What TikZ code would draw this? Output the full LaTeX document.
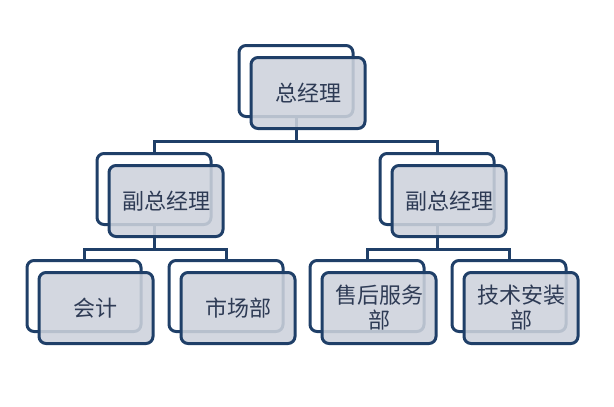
\documentclass[tikz,border=0pt]{standalone}
\usepackage{fontspec}
\setmainfont{Noto Sans CJK SC}
\usetikzlibrary{positioning}

\definecolor{boxline}{HTML}{1F3F68}
\definecolor{boxfill}{HTML}{CDD2DC}
\definecolor{boxtext}{HTML}{2E3B55}

\begin{document}
\begin{tikzpicture}[x=1pt, y=-1pt,
		back/.style={rectangle, rounded corners=7pt, draw=boxline, line width=3pt,
			fill=white, minimum width=114pt, minimum height=71pt, inner sep=0pt},
		front/.style={back, fill=boxfill, fill opacity=0.88, text opacity=1,
			text=boxtext, align=center, font=\fontsize{22}{25}\selectfont},
		link/.style={draw=boxline, line width=3pt}
	]
	\useasboundingbox (0,0) rectangle (614,407);

	% back boxes
	\node[back] (gm) at (296, 81) {};
	\node[back] (vp1) at (154, 189) {};
	\node[back] (vp2) at (437, 189) {};
	\node[back] (acc) at (84, 296) {};
	\node[back] (mkt) at (226, 296) {};
	\node[back] (svc) at (367, 296) {};
	\node[back] (tech) at (509, 296) {};

	% connectors
	\draw[link] (gm.south) -- ++(0,23) -| (vp1.north);
	\draw[link] (gm.south) -- ++(0,23) -| (vp2.north);
	\draw[link] (vp1.south) -- ++(0,23) -| (acc.north);
	\draw[link] (vp1.south) -- ++(0,23) -| (mkt.north);
	\draw[link] (vp2.south) -- ++(0,23) -| (svc.north);
	\draw[link] (vp2.south) -- ++(0,23) -| (tech.north);

	% front boxes
	\node[front] (gm-f) at ([shift={(12,12)}]gm.center) {总经理};
	\node[front] (vp1-f) at ([shift={(12,12)}]vp1.center) {副总经理};
	\node[front] (vp2-f) at ([shift={(12,12)}]vp2.center) {副总经理};
	\node[front] (acc-f) at ([shift={(12,12)}]acc.center) {会计};
	\node[front] (mkt-f) at ([shift={(12,12)}]mkt.center) {市场部};
	\node[front] (svc-f) at ([shift={(12,12)}]svc.center) {售后服务\\部};
	\node[front] (tech-f) at ([shift={(12,12)}]tech.center) {技术安装\\部};
\end{tikzpicture}
\end{document}
